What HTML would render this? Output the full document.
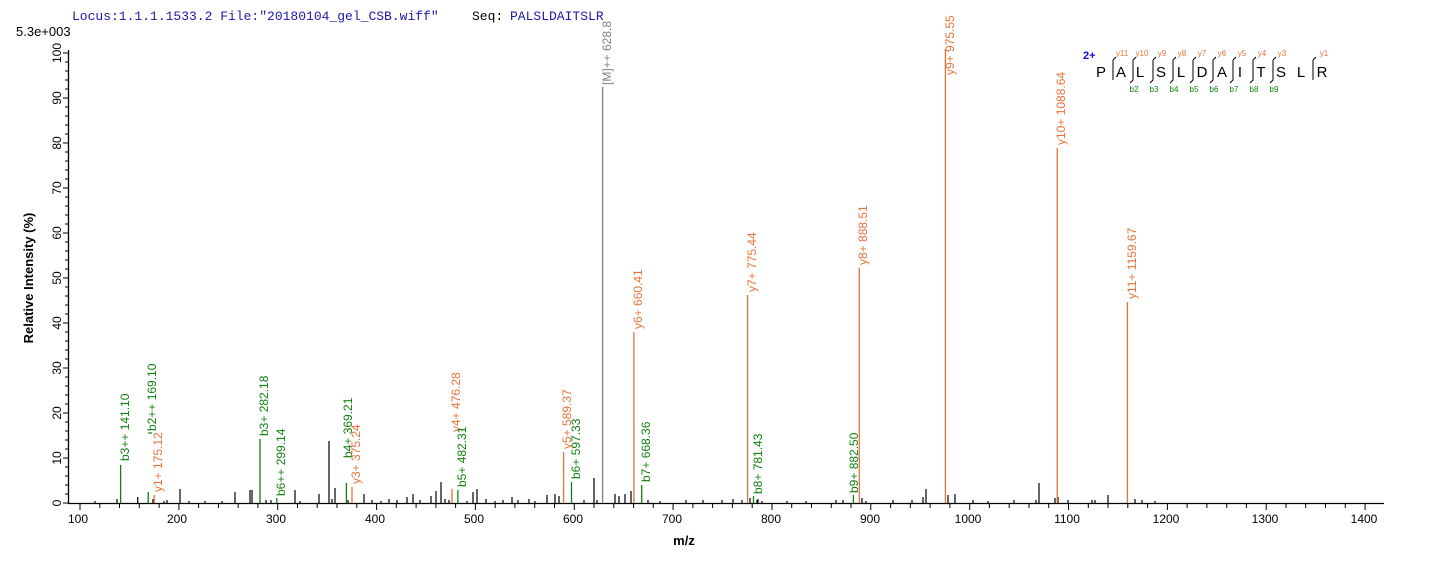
<!DOCTYPE html>
<html><head><meta charset="utf-8"><style>
body{margin:0;background:#fff;}
svg{display:block;font-family:"Liberation Sans",Arial,sans-serif;}
.o{stroke:#E8733A;stroke-width:1.3}
.g{stroke:#108010;stroke-width:1.3}
.k{stroke:#000;stroke-width:1.2}
.to{fill:#E8733A;font-size:12px}
.tg{fill:#108010;font-size:12px}
</style></head><body>
<svg width="1436" height="562" viewBox="0 0 1436 562" xmlns="http://www.w3.org/2000/svg">
<text x="72" y="20" font-family="Liberation Mono,monospace" font-size="13" fill="#1a1aa8">Locus:1.1.1.1533.2 File:"20180104_gel_CSB.wiff"</text>
<text x="472" y="20" font-family="Liberation Mono,monospace" font-size="13" fill="#000">Seq:</text>
<text x="510" y="20" font-family="Liberation Mono,monospace" font-size="13" fill="#1a1aa8">PALSLDAITSLR</text>
<text x="16" y="36" font-size="13" fill="#000">5.3e+003</text>
<text transform="translate(33,278) rotate(-90)" text-anchor="middle" font-size="13" font-weight="bold">Relative   Intensity (%)</text>
<text x="684" y="545" text-anchor="middle" font-size="13" font-weight="bold">m/z</text>
<line x1="68" y1="503.5" x2="1384" y2="503.5" stroke="#000" stroke-width="1.3"/>
<line x1="68.5" y1="50" x2="68.5" y2="504" stroke="#000" stroke-width="1.3"/>
<g stroke="#000" stroke-width="1">
<path d="M63 503H68M63 458H68M63 413H68M63 368H68M63 323H68M63 278H68M63 233H68M63 188H68M63 143H68M63 98H68M63 53H68"/>
<path d="M65 494H68M65 485H68M65 476H68M65 467H68M65 449H68M65 440H68M65 431H68M65 422H68M65 404H68M65 395H68M65 386H68M65 377H68M65 359H68M65 350H68M65 341H68M65 332H68M65 314H68M65 305H68M65 296H68M65 287H68M65 269H68M65 260H68M65 251H68M65 242H68M65 224H68M65 215H68M65 206H68M65 197H68M65 179H68M65 170H68M65 161H68M65 152H68M65 134H68M65 125H68M65 116H68M65 107H68M65 89H68M65 80H68M65 71H68M65 62H68"/>
</g>
<g font-size="12" text-anchor="middle">
<text transform="translate(61,503) rotate(-90)">0</text>
<text transform="translate(61,458) rotate(-90)">10</text>
<text transform="translate(61,413) rotate(-90)">20</text>
<text transform="translate(61,368) rotate(-90)">30</text>
<text transform="translate(61,323) rotate(-90)">40</text>
<text transform="translate(61,278) rotate(-90)">50</text>
<text transform="translate(61,233) rotate(-90)">60</text>
<text transform="translate(61,188) rotate(-90)">70</text>
<text transform="translate(61,143) rotate(-90)">80</text>
<text transform="translate(61,98) rotate(-90)">90</text>
<text transform="translate(61,53) rotate(-90)">100</text>
</g>
<g stroke="#000" stroke-width="1">
<path d="M80 503v7M99.8 503v5M119.5 503v5M139.3 503v5M159.1 503v5M178.9 503v7M198.6 503v5M218.4 503v5M238.2 503v5M257.9 503v5M277.7 503v7M297.5 503v5M317.2 503v5M337 503v5M356.8 503v5M376.6 503v7M396.3 503v5M416.1 503v5M435.9 503v5M455.6 503v5M475.4 503v7M495.2 503v5M514.9 503v5M534.7 503v5M554.5 503v5M574.3 503v7M594 503v5M613.8 503v5M633.6 503v5M653.3 503v5M673.1 503v7M692.9 503v5M712.6 503v5M732.4 503v5M752.2 503v5M772 503v7M791.7 503v5M811.5 503v5M831.3 503v5M851 503v5M870.8 503v7M890.6 503v5M910.3 503v5M930.1 503v5M949.9 503v5M969.7 503v7M989.4 503v5M1009.2 503v5M1029 503v5M1048.7 503v5M1068.5 503v7M1088.3 503v5M1108 503v5M1127.8 503v5M1147.6 503v5M1167.4 503v7M1187.1 503v5M1206.9 503v5M1226.7 503v5M1246.4 503v5M1266.2 503v7M1286 503v5M1305.7 503v5M1325.5 503v5M1345.3 503v5M1365.1 503v7"/>
</g>
<g font-size="12" text-anchor="middle">
<text x="78" y="523">100</text><text x="177" y="523">200</text><text x="276" y="523">300</text><text x="375" y="523">400</text><text x="474" y="523">500</text><text x="573" y="523">600</text><text x="672" y="523">700</text><text x="771" y="523">800</text><text x="870" y="523">900</text><text x="968" y="523">1000</text><text x="1067" y="523">1100</text><text x="1166" y="523">1200</text><text x="1265" y="523">1300</text><text x="1364" y="523">1400</text>
</g>
<path class="k" d="M95 503v-2M117 503v-4M137.7 503v-6M153 503v-4M164 503v-2M167 503v-3M180 503v-14M189 503v-2M205 503v-2M222 503v-2M235 503v-11M250 503v-13M252 503v-13M266 503v-3M271 503v-3M295 503v-13M300 503v-2M319 503v-9M329 503v-62M332 503v-4M335 503v-15M348 503v-3M364 503v-9M372 503v-3M381 503v-2M389 503v-4M397 503v-3M407 503v-6M413 503v-9M420 503v-3M431 503v-7M436 503v-12M441 503v-21M445 503v-4M449 503v-3M467 503v-2M473 503v-11M477 503v-14M486 503v-4M495 503v-2M503 503v-3M512 503v-6M518 503v-3M529 503v-4M535 503v-2M547 503v-8M555 503v-9M559 503v-7M584 503v-3M594 503v-25M597 503v-3M615 503v-9M619 503v-7M625 503v-9M631 503v-12M648 503v-3M660 503v-2M686 503v-3M703 503v-3M722 503v-3M733 503v-4M742 503v-3M750 503v-5M757 503v-3M758 503v-4M762 503v-2M787 503v-2M806 503v-2M836 503v-3M843 503v-3M862 503v-5M866 503v-2M893 503v-3M912 503v-3M923 503v-6M926 503v-14M948 503v-8M955 503v-9M973 503v-3M988 503v-2M1014 503v-3M1036 503v-3M1039 503v-20M1055 503v-5M1058 503v-6M1068 503v-3M1092 503v-3M1095 503v-3M1108 503v-8M1135 503v-4M1142 503v-3M1155 503v-2"/>
<path class="g" d="M120.6 503V465M148.2 503V492M148.2 433h4M260 503V439M276.8 503V498M346.4 503V483M457.9 503V490M571.5 503V482M641.7 503V485M753.5 503V496M853.4 503V495"/>
<path class="o" d="M154.2 503V495M352 503V487M452 503V489M563.6 503V452M633.9 503V332M747.6 503V295M859.3 503V268M945.4 503V49M1057.2 503V148M1127.4 503V302"/>
<line x1="602.6" y1="503" x2="602.6" y2="87" stroke="#808080" stroke-width="1.3"/>
<g>
<text class="tg" transform="translate(129,461) rotate(-90)">b3++ 141.10</text>
<text class="tg" transform="translate(156,431) rotate(-90)">b2++ 169.10</text>
<text class="to" transform="translate(162,492) rotate(-90)">y1+ 175.12</text>
<text class="tg" transform="translate(268,436) rotate(-90)">b3+ 282.18</text>
<text class="tg" transform="translate(285,496) rotate(-90)">b6++ 299.14</text>
<text class="tg" transform="translate(352,458) rotate(-90)">b4+ 369.21</text>
<text class="to" transform="translate(360,484) rotate(-90)">y3+ 375.24</text>
<text class="to" transform="translate(460,432) rotate(-90)">y4+ 476.28</text>
<text class="tg" transform="translate(466,487) rotate(-90)">b5+ 482.31</text>
<text class="to" transform="translate(571,449) rotate(-90)">y5+ 589.37</text>
<text class="tg" transform="translate(580,479) rotate(-90)">b6+ 597.33</text>
<text transform="translate(611,85) rotate(-90)" fill="#808080" font-size="12">[M]++ 628.8</text>
<text class="to" transform="translate(642,329) rotate(-90)">y6+ 660.41</text>
<text class="tg" transform="translate(650,482) rotate(-90)">b7+ 668.36</text>
<text class="to" transform="translate(756,292) rotate(-90)">y7+ 775.44</text>
<text class="tg" transform="translate(762,494) rotate(-90)">b8+ 781.43</text>
<text class="tg" transform="translate(858,493) rotate(-90)">b9+ 882.50</text>
<text class="to" transform="translate(867,265) rotate(-90)">y8+ 888.51</text>
<text class="to" transform="translate(954,75) rotate(-90)">y9+ 975.55</text>
<text class="to" transform="translate(1065,145) rotate(-90)">y10+ 1088.64</text>
<text class="to" transform="translate(1136,299) rotate(-90)">y11+ 1159.67</text>
</g>
<text x="1083" y="59" fill="#1010c8" font-size="11" font-weight="bold">2+</text>
<g font-size="15" text-anchor="middle" fill="#000">
<text x="1101" y="77">P</text><text x="1121" y="77">A</text><text x="1140" y="77">L</text><text x="1161" y="77">S</text><text x="1181" y="77">L</text><text x="1202" y="77">D</text><text x="1222" y="77">A</text><text x="1240" y="77">I</text><text x="1261" y="77">T</text><text x="1281" y="77">S</text><text x="1301" y="77">L</text><text x="1322" y="77">R</text>
</g>
<g stroke="#000" stroke-width="1" fill="none">
<path d="M1113 60l3-3M1113 60v20"/><path d="M1133 60l3-3M1133 60v20l-3 3"/><path d="M1153 60l3-3M1153 60v20l-3 3"/><path d="M1173 60l3-3M1173 60v20l-3 3"/><path d="M1193 60l3-3M1193 60v20l-3 3"/><path d="M1213 60l3-3M1213 60v20l-3 3"/><path d="M1233 60l3-3M1233 60v20l-3 3"/><path d="M1253 60l3-3M1253 60v20l-3 3"/><path d="M1273 60l3-3M1273 60v20l-3 3"/><path d="M1313 60l3-3M1313 60v20"/>
</g>
<g font-size="8" fill="#E8733A" text-anchor="middle">
<text x="1122" y="56">y11</text><text x="1142" y="56">y10</text><text x="1162" y="56">y9</text><text x="1182" y="56">y8</text><text x="1202" y="56">y7</text><text x="1222" y="56">y6</text><text x="1242" y="56">y5</text><text x="1262" y="56">y4</text><text x="1282" y="56">y3</text><text x="1324" y="56">y1</text>
</g>
<g font-size="8" fill="#108010" text-anchor="middle">
<text x="1134" y="92">b2</text><text x="1154" y="92">b3</text><text x="1174" y="92">b4</text><text x="1194" y="92">b5</text><text x="1214" y="92">b6</text><text x="1234" y="92">b7</text><text x="1254" y="92">b8</text><text x="1274" y="92">b9</text>
</g>
</svg>
</body></html>
